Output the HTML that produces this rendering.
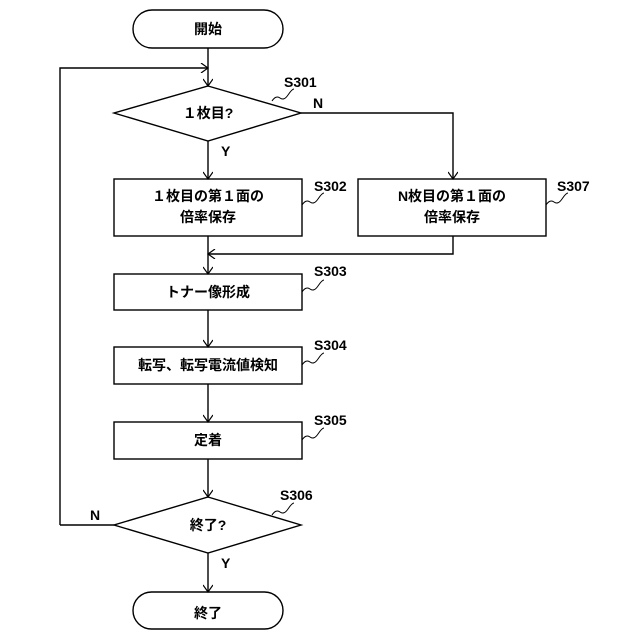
<!DOCTYPE html><html><head><meta charset="utf-8"><style>body{margin:0;background:#fff}svg{display:block}text{font-family:"Liberation Sans","Noto Sans CJK JP",sans-serif;font-size:14px;font-weight:bold;fill:#000}</style></head><body>
<svg width="640" height="640" viewBox="0 0 640 640" xmlns="http://www.w3.org/2000/svg">
<defs><marker id="a" markerWidth="10" markerHeight="10" refX="8" refY="5" orient="auto" markerUnits="userSpaceOnUse"><path d="M1,0 L8,5 L1,10" fill="none" stroke="#000" stroke-width="1.2"/></marker></defs>
<g fill="none" stroke="#000" stroke-width="1.4">
<rect x="133" y="10" width="150" height="38" rx="19"/>
<rect x="133" y="592" width="150" height="37" rx="18.5"/>
<polygon points="208,86 301,113 208,141 114,113"/>
<polygon points="208,497 301,525 208,553 114,525"/>
<rect x="114" y="179" width="188" height="57"/>
<rect x="358" y="179" width="188" height="57"/>
<rect x="114" y="274" width="188" height="36"/>
<rect x="114" y="347" width="188" height="37"/>
<rect x="114" y="422" width="188" height="37"/>
<path d="M208,48 V86" marker-end="url(#a)"/>
<path d="M60,525 H114 M60,525 V68 H208" marker-end="url(#a)"/>
<path d="M208,141 V179" marker-end="url(#a)"/>
<path d="M301,113 H453 V179" marker-end="url(#a)"/>
<path d="M453,236 V254 H208" marker-end="url(#a)"/>
<path d="M208,236 V274" marker-end="url(#a)"/>
<path d="M208,310 V347" marker-end="url(#a)"/>
<path d="M208,384 V422" marker-end="url(#a)"/>
<path d="M208,459 V497" marker-end="url(#a)"/>
<path d="M208,553 V592" marker-end="url(#a)"/>
<g stroke-width="1">
<path d="M272,101 q4,-6 8,-3 t8,-3 t6,-6"/>
<path d="M302,205 q4,-6 8,-3 t8,-3 t6,-6"/>
<path d="M546,205 q4,-6 8,-3 t8,-3 t6,-6"/>
<path d="M302,292 q4,-6 8,-3 t8,-3 t6,-6"/>
<path d="M302,365 q4,-6 8,-3 t8,-3 t6,-6"/>
<path d="M302,440 q4,-6 8,-3 t8,-3 t6,-6"/>
<path d="M272,515 q4,-6 8,-3 t8,-3 t6,-6"/>
</g></g>
<g text-anchor="middle">
<text x="208" y="34">開始</text>
<text x="208" y="618">終了</text>
<text x="208" y="118">１枚目?</text>
<text x="208" y="530">終了?</text>
<text x="208" y="201">１枚目の第１面の</text>
<text x="208" y="222">倍率保存</text>
<text x="452" y="201">N枚目の第１面の</text>
<text x="452" y="222">倍率保存</text>
<text x="208" y="297">トナー像形成</text>
<text x="208" y="370">転写、転写電流値検知</text>
<text x="208" y="445">定着</text>
</g>
<g style="font-size:13px">
<text x="284" y="87">S301</text>
<text x="314" y="191">S302</text>
<text x="557" y="191">S307</text>
<text x="314" y="276">S303</text>
<text x="314" y="350">S304</text>
<text x="314" y="425">S305</text>
<text x="280" y="500">S306</text>
<text x="313" y="108">N</text>
<text x="221" y="156">Y</text>
<text x="90" y="520">N</text>
<text x="221" y="568">Y</text>
</g>
</svg></body></html>
